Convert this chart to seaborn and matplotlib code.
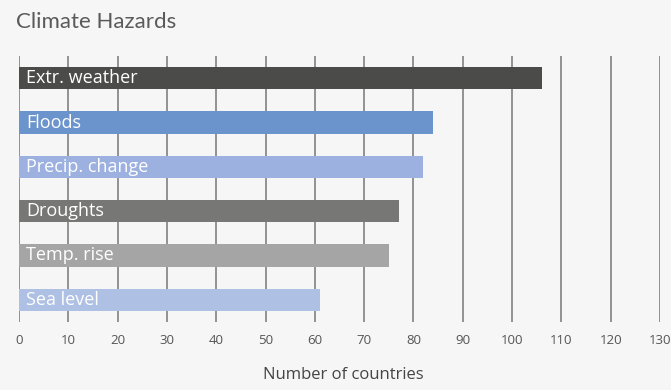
import matplotlib
matplotlib.use("Agg")
import matplotlib.pyplot as plt
import seaborn as sns
import pandas as pd

hazards = ["Extr. weather", "Floods", "Precip. change", "Droughts", "Temp. rise", "Sea level"]
countries = [106, 84, 82, 77, 75, 61]
bar_colors = ["#4b4b49", "#6b93cc", "#9db1e0", "#777776", "#a5a5a5", "#aec0e4"]
x_ticks = [0, 10, 20, 30, 40, 50, 60, 70, 80, 90, 100, 110, 120, 130]

sns.set_theme(style="white")
plt.rcParams["font.family"] = ["Open Sans", "DejaVu Sans"]

bg = "#f6f6f6"
df = pd.DataFrame({"hazard": hazards, "countries": countries})

fig = plt.figure(figsize=(6.71, 3.90), dpi=100, facecolor=bg)
ax = fig.add_axes([19 / 671, 68 / 390, 641 / 671, 266 / 390])
ax.set_facecolor(bg)

sns.barplot(data=df, y="hazard", x="countries", hue="hazard",
            palette=dict(zip(hazards, bar_colors)), order=hazards,
            width=0.5, orient="h", legend=False, ax=ax, saturation=1,
            linewidth=0, edgecolor="none")

ax.set_xlim(0, 130)
ax.set_ylim(5.5, -0.5)
ax.set_xticks(x_ticks)
ax.set_xticklabels([str(t) for t in x_ticks], color="#555555", fontsize=9.5)
ax.tick_params(axis="x", length=0, pad=9)
ax.set_yticks([])
ax.set_ylabel("")
ax.set_xlabel("Number of countries", fontsize=12, color="#444444")
ax.xaxis.set_label_coords(0.506, -0.2)
ax.xaxis.label.set_va("center")
ax.set_axisbelow(True)
ax.grid(axis="x", color="#8a8a8a", linewidth=1.3)
for s in ax.spines.values():
    s.set_visible(False)

for i, name in enumerate(hazards):
    ax.text(1.4, i, name, color="white", fontsize=13, va="center", ha="left")

fig.text(16 / 671, 1 - 22 / 390, "Climate Hazards", fontsize=16, color="#5a5a5a",
         va="center", ha="left", fontfamily=["Lato", "DejaVu Sans"])

fig.savefig("out.png", dpi=100, facecolor=bg)
